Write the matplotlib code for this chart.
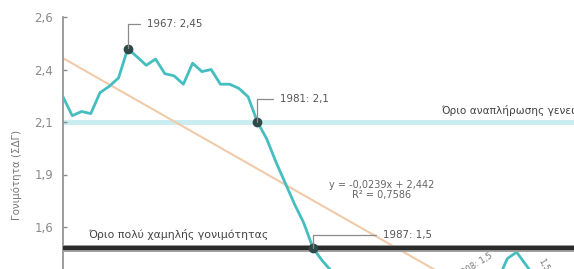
import matplotlib
matplotlib.use("Agg")
import matplotlib.pyplot as plt
import numpy as np

plt.rcParams['font.family'] = ['DejaVu Sans']

# ---- data ----
years = list(range(1960, 2015))
tfr = [2.22, 2.13, 2.15, 2.14, 2.24, 2.27, 2.31, 2.45, 2.41, 2.37,
       2.40, 2.33, 2.32, 2.28, 2.38, 2.34, 2.35, 2.28, 2.28, 2.26,
       2.22, 2.10, 2.02, 1.91, 1.81, 1.71, 1.62, 1.50, 1.44, 1.39,
       1.37, 1.36, 1.34, 1.32, 1.31, 1.30, 1.29, 1.28, 1.27, 1.26,
       1.27, 1.28, 1.28, 1.29, 1.31, 1.33, 1.32, 1.35, 1.45, 1.48,
       1.42, 1.36, 1.31, 1.28, 1.30]
trend_years = [1960, 2015]
trend_values = [2.404, 1.024]
replacement_level = 2.1
lowest_low_level = 1.5
marked_years = [1967, 1981, 1987]
marked_labels = ["1967: 2,45", "1981: 2,1", "1987: 1,5"]
ytick_values = [2.6, 2.35, 2.1, 1.85, 1.6]
ytick_labels = ["2,6", "2,4", "2,1", "1,9", "1,6"]
equation_text = "y = -0,0239x + 2,442\nR² = 0,7586"
replacement_text = "Όριο αναπλήρωσης γενεών"
lowest_low_text = "Όριο πολύ χαμηλής γονιμότητας"
ylabel_text = "Γονιμότητα (ΣΔΓ)"

# ---- figure ----
W, H = 574, 269
fig = plt.figure(figsize=(W / 100, H / 100), dpi=100)
ax = fig.add_axes([63 / W, 0, 511 / W, 252 / H])
ax.set_xlim(1960, 2015.2)
ax.set_ylim(1.40, 2.6)

for s in ['top', 'right', 'bottom']:
    ax.spines[s].set_visible(False)
ax.spines['left'].set_color('#8c8c8c')
ax.spines['left'].set_linewidth(1.2)
ax.set_xticks([])
ax.set_yticks(ytick_values)
ax.set_yticklabels(ytick_labels)
ax.tick_params(axis='y', direction='in', length=3, width=1, color='#8c8c8c',
               labelcolor='#8a8a8a', labelsize=8.5, pad=7)

# reference lines
ax.axhline(replacement_level, color='#c9edf0', lw=3.5, zorder=1)
ax.axhline(lowest_low_level, color='#a0a0a0', lw=5, zorder=4)
ax.axhline(lowest_low_level, color='#2b2b2b', lw=3, zorder=4.1)

# trend
ax.plot(trend_years, trend_values, color='#f1cba8', lw=1.5, zorder=2)

# series
ax.plot(years, tfr, color='#45bec0', lw=2.0, zorder=3, solid_joinstyle='round')

# markers + annotations
offsets = [(19, 24), (23, 23), (70, 13)]
for yr, lab, off in zip(marked_years, marked_labels, offsets):
    v = tfr[years.index(yr)]
    ax.plot([yr], [v], 'o', ms=6, color='#2e4a48', zorder=6)
    ax.annotate(lab, xy=(yr, v), xytext=off, textcoords='offset pixels',
                ha='left', va='center', fontsize=7.4, color='#555555',
                arrowprops=dict(arrowstyle='-', color='#8a8a8a', lw=0.9,
                                connectionstyle='angle,angleA=0,angleB=90,rad=0',
                                shrinkA=3, shrinkB=0, relpos=(0, 0.5)),
                zorder=6)

# equation
ax.text(1994.4, 1.775, equation_text, ha='center', va='center', fontsize=7.0,
        color='#666666', linespacing=0.95, multialignment='center')

# level labels
ax.text(2000.9, 2.157, replacement_text, ha='left', va='center', fontsize=7.6,
        color='#444444')
ax.text(1962.7, 1.562, lowest_low_text, ha='left', va='center', fontsize=7.8,
        color='#444444')

# partially visible slanted labels at the bottom
ax.text(2004.5, 1.415, "2008: 1,5", rotation=32, ha='center', va='center',
        fontsize=6, color='#777777', clip_on=False)
ax.text(2011.9, 1.42, "1,5", rotation=-60, ha='center', va='center',
        fontsize=6, color='#777777', clip_on=False)

# y label
fig.text(17 / W, 1 - 175 / H, ylabel_text, rotation=90, ha='center', va='center',
         fontsize=7.4, color='#777777')

fig.savefig('out.png', dpi=100)
